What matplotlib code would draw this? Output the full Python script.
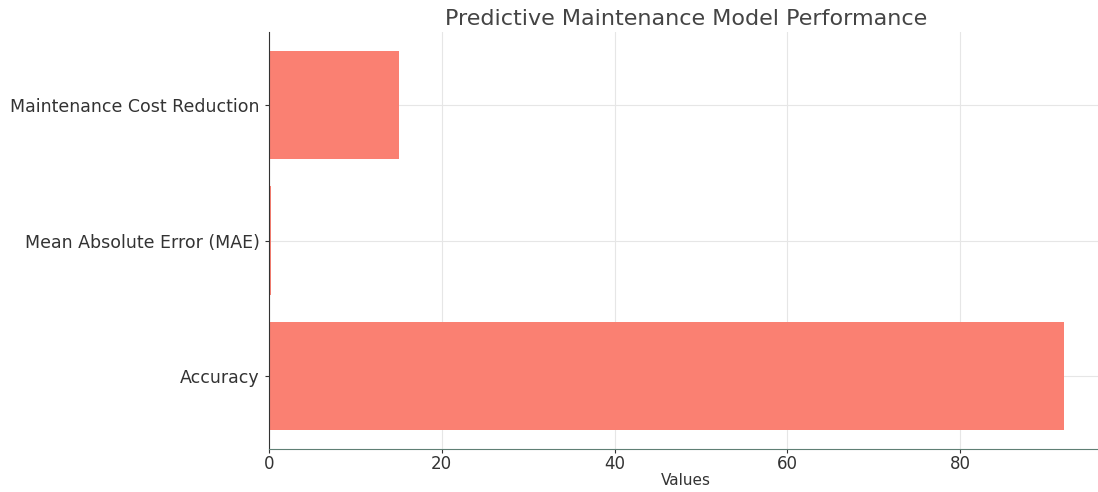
import matplotlib.pyplot as plt

metrics = ["Accuracy", "Mean Absolute Error (MAE)", "Maintenance Cost Reduction"]
values = [92, 0.25, 15]

fig = plt.figure(figsize=(10.98, 4.92), dpi=100)
ax = fig.add_axes([0.245, 0.087, 0.760, 0.848])

ax.barh(metrics, values, color="salmon")
ax.set_title("Predictive Maintenance Model Performance", fontsize=16, color="#444444", pad=5)
ax.set_xlabel("Values", fontsize=11, color="#333333", labelpad=0)
ax.tick_params(axis="y", labelsize=12.5, colors="#333333", length=3)
ax.tick_params(axis="x", labelsize=12, colors="#333333", length=3, pad=1)
ax.grid(True, color="#e6e6e6", linewidth=0.8)
ax.set_axisbelow(True)
for side in ["top", "right"]:
    ax.spines[side].set_visible(False)
ax.spines["left"].set_color("#333333")
ax.spines["bottom"].set_color("#5f7f74")

fig.savefig("out.png", dpi=100)
